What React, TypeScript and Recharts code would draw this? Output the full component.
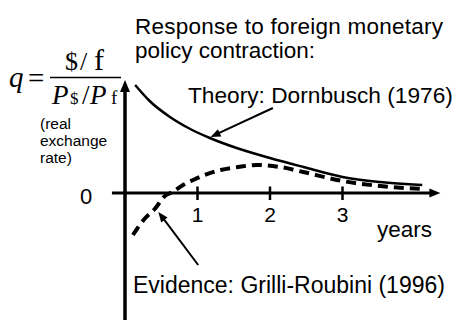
import React from 'react';
import { LineChart, Line, XAxis, YAxis, ReferenceLine } from 'recharts';

// ---- data (years after contraction, response of q) ----
const theoryYears = [0.14, 0.34, 0.62, 0.9, 1.17, 1.54, 2.0, 2.46, 3.0, 3.52, 4.1];
const theoryValues = [10.8, 9.2, 7.6, 6.4, 5.5, 4.5, 3.5, 2.6, 1.6, 1.1, 0.8];
const evidenceYears = [0.11, 0.28, 0.41, 0.55, 0.66, 0.8, 0.94, 1.1, 1.32, 1.56, 1.82, 2.14, 2.46, 3.0, 3.52, 4.1];
const evidenceValues = [-4.2, -2.5, -1.6, -0.3, 0.1, 0.8, 1.3, 1.8, 2.3, 2.6, 2.8, 2.6, 2.1, 1.2, 0.7, 0.4];
const tickYears = [1, 2, 3];
const tickLabels = ['1', '2', '3'];
const xAxisSpan = [-0.18, 4.35];
const yAxisSpan = [-12.7, 11.3];
const theoryArrow = [[2.04, 8.5], [1.18, 5.6]];
const evidenceArrow = [[1.01, -7.2], [0.46, -1.9]];

const theoryData = theoryYears.map((x, i) => ({ x, v: theoryValues[i] }));
const evidenceData = evidenceYears.map((x, i) => ({ x, v: evidenceValues[i] }));

const SANS = '"Liberation Sans", Arial, sans-serif';
const SERIF = '"Liberation Serif", "Times New Roman", serif';

const arrowShape = (w: number, hl: number, hw: number) => (p: any) => {
  const { x1, y1, x2, y2 } = p;
  const dx = x2 - x1;
  const dy = y2 - y1;
  const len = Math.hypot(dx, dy) || 1;
  const ux = dx / len;
  const uy = dy / len;
  const bx = x2 - ux * hl;
  const by = y2 - uy * hl;
  const pts = `${x2},${y2} ${bx - uy * hw},${by + ux * hw} ${bx + uy * hw},${by - ux * hw}`;
  return (
    <g>
      <line x1={x1} y1={y1} x2={bx + ux * 1} y2={by + uy * 1} stroke="#000" strokeWidth={w} />
      <polygon points={pts} fill="#000" />
    </g>
  );
};

const tickShape = (label: string) => (p: any) => {
  const { x1, y1, x2, y2 } = p;
  return (
    <g>
      <line x1={x1} y1={y1} x2={x2} y2={y2} stroke="#000" strokeWidth={2.5} />
      <text x={x1} y={222} textAnchor="middle" fontFamily={SANS} fontSize={21} fill="#000">
        {label}
      </text>
    </g>
  );
};

export default function App() {
  return (
    <div style={{ position: 'absolute', left: 0, top: 0, width: 458, height: 320, background: '#fff' }}>
      <LineChart width={458} height={320} margin={{ top: 78, right: 6.75, bottom: 0, left: 110.5 }}>
        <XAxis type="number" dataKey="x" domain={[-0.2, 4.5]} allowDataOverflow hide />
        <YAxis type="number" dataKey="v" domain={[-12.7, 11.5]} allowDataOverflow hide />
        <ReferenceLine
          segment={[{ x: 0, y: yAxisSpan[0] }, { x: 0, y: yAxisSpan[1] }]}
          shape={arrowShape(3.5, 12, 5)}
        />
        <ReferenceLine
          segment={[{ x: xAxisSpan[0], y: 0 }, { x: xAxisSpan[1], y: 0 }]}
          shape={arrowShape(3, 11, 4.5)}
        />
        {tickYears.map((t, i) => (
          <ReferenceLine
            key={t}
            segment={[{ x: t, y: 0.65 }, { x: t, y: -0.7 }]}
            shape={tickShape(tickLabels[i])}
          />
        ))}
        <Line
          data={theoryData}
          dataKey="v"
          type="monotone"
          stroke="#000"
          strokeWidth={2.5}
          dot={false}
          isAnimationActive={false}
        />
        <Line
          data={evidenceData}
          dataKey="v"
          type="monotone"
          stroke="#000"
          strokeWidth={4}
          strokeDasharray="10 6"
          dot={false}
          isAnimationActive={false}
        />
        <ReferenceLine
          segment={[{ x: theoryArrow[0][0], y: theoryArrow[0][1] }, { x: theoryArrow[1][0], y: theoryArrow[1][1] }]}
          shape={arrowShape(2, 10, 4)}
        />
        <ReferenceLine
          segment={[{ x: evidenceArrow[0][0], y: evidenceArrow[0][1] }, { x: evidenceArrow[1][0], y: evidenceArrow[1][1] }]}
          shape={arrowShape(2, 10, 4)}
        />
      </LineChart>
      <svg
        width={458}
        height={320}
        style={{ position: 'absolute', left: 0, top: 0, pointerEvents: 'none' }}
      >
        <g fontFamily={SANS} fill="#000">
          <text x={135} y={34} fontSize={22.5} textLength={308} lengthAdjust="spacing">Response to foreign monetary</text>
          <text x={135} y={58} fontSize={22.5}>policy contraction:</text>
          <text x={188} y={103} fontSize={22.7}>Theory: Dornbusch (1976)</text>
          <text x={133} y={293} fontSize={23}>Evidence: Grilli-Roubini (1996)</text>
          <text x={377} y={237} fontSize={22.5}>years</text>
          <text x={80} y={204} fontSize={22}>0</text>
          <text x={40} y={129} fontSize={15.5}>(real</text>
          <text x={40} y={146} fontSize={15.5}>exchange</text>
          <text x={40} y={163} fontSize={15.5}>rate)</text>
        </g>
        <g fontFamily={SERIF} fill="#000">
          <text x={9} y={87} fontSize={29} fontStyle="italic">q</text>
          <text x={28} y={88} fontSize={29}>=</text>
          <text y={70}>
            <tspan x={65} fontSize={26}>$</tspan>
            <tspan x={80} fontSize={26}>/</tspan>
            <tspan x={94} fontSize={30}>f</tspan>
          </text>
          <line x1={50} y1={77.5} x2={121} y2={77.5} stroke="#000" strokeWidth={1.5} />
          <text y={104}>
            <tspan x={52} fontSize={27} fontStyle="italic">P</tspan>
            <tspan x={70} fontSize={17}>$</tspan>
            <tspan x={82} fontSize={27}>/</tspan>
            <tspan x={90} fontSize={27} fontStyle="italic">P</tspan>
            <tspan x={111} fontSize={19}>f</tspan>
          </text>
        </g>
      </svg>
    </div>
  );
}
